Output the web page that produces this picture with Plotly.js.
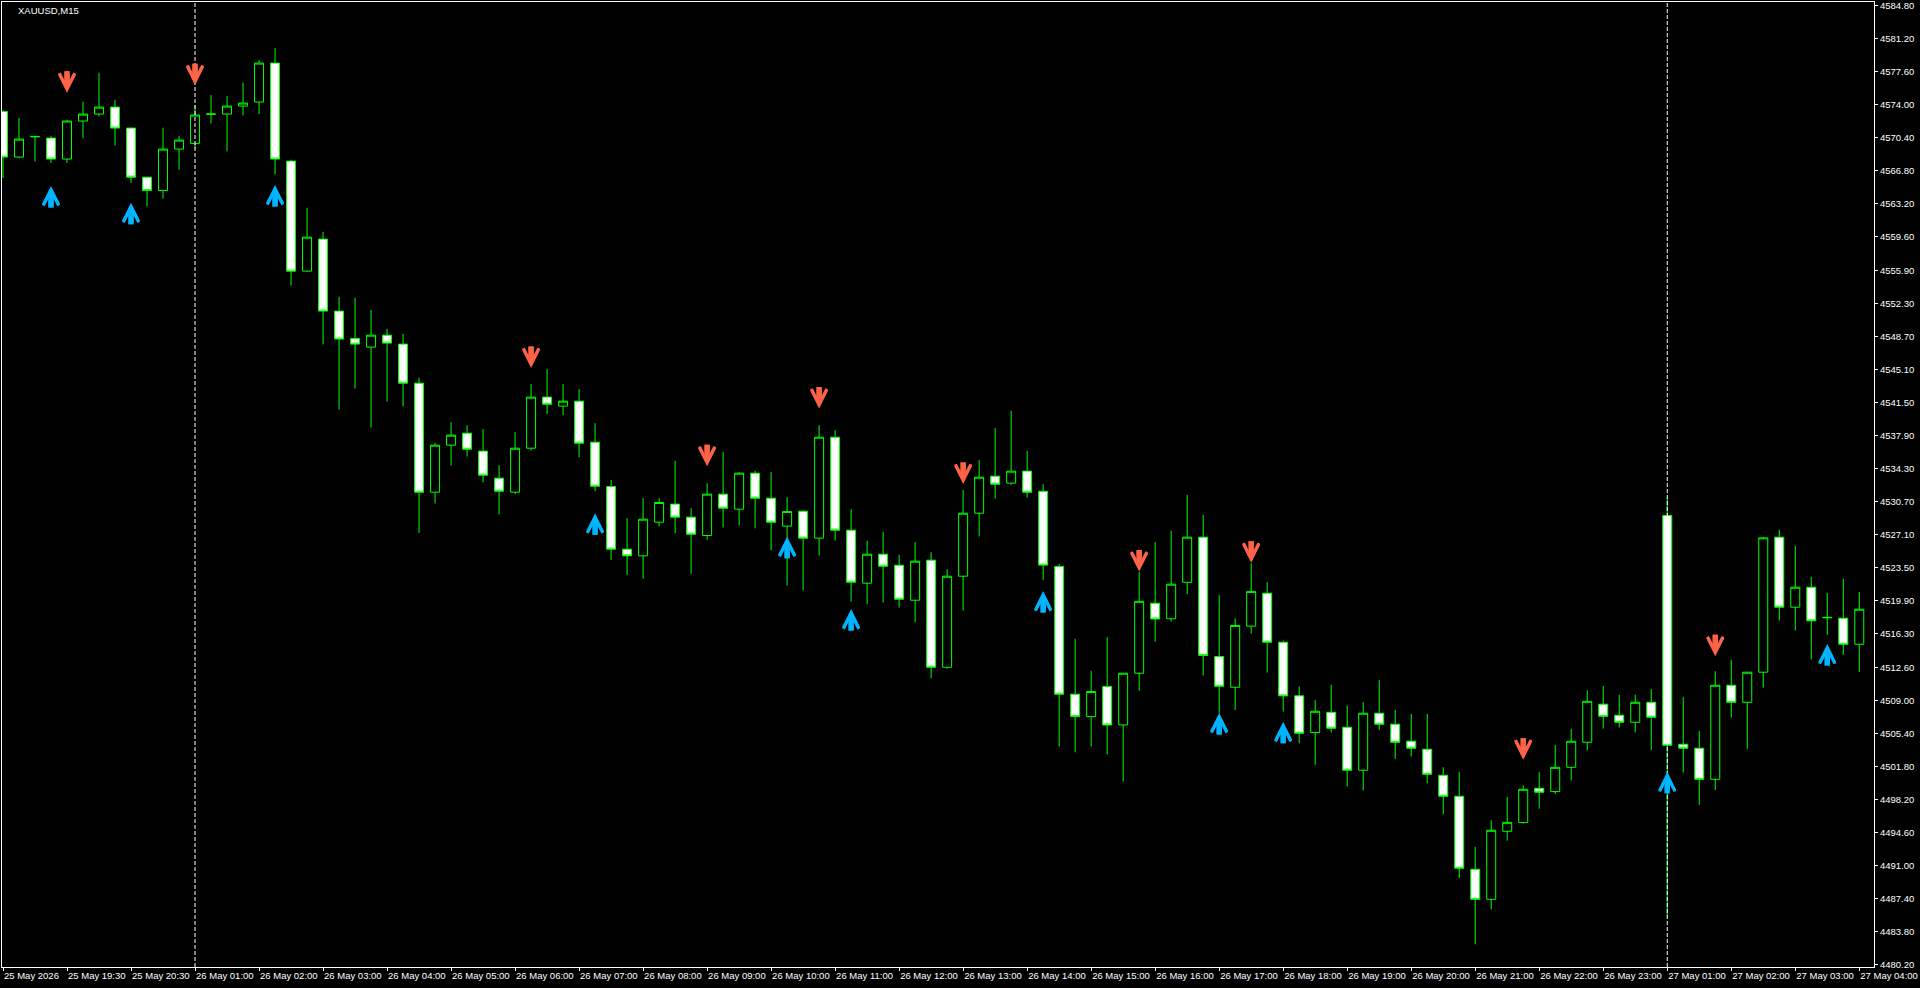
<!DOCTYPE html>
<html><head><meta charset="utf-8">
<script src="https://cdn.plot.ly/plotly-3.0.1.min.js"></script>
<style>html,body{margin:0;padding:0;background:#000;overflow:hidden}#chart{width:1920px;height:988px}</style>
</head><body><div id="chart"></div>
<script>
const chartTitle = 'XAUUSD,M15';

const opens = [4573.28,4568.30,4570.50,4570.37,4568.08,4572.23,4572.99,4573.75,4571.46,4566.11,
4564.66,4569.17,4569.79,4572.95,4572.99,4573.86,4574.30,4578.55,4567.86,4555.86,
4559.35,4551.50,4548.52,4547.57,4548.88,4547.90,4543.64,4531.75,4536.88,4538.19,
4536.23,4533.28,4531.75,4536.55,4542.12,4541.14,4541.68,4537.21,4532.37,4525.54,
4524.81,4528.48,4530.45,4529.03,4527.03,4531.54,4529.90,4533.83,4531.10,4528.05,
4529.68,4526.74,4537.75,4527.61,4521.83,4524.99,4523.79,4519.97,4524.34,4512.66,
4522.59,4529.46,4533.50,4532.74,4534.05,4531.85,4523.66,4509.72,4507.28,4510.57,
4506.37,4512.01,4519.65,4517.95,4521.92,4526.85,4513.83,4510.48,4517.14,4520.74,
4515.39,4509.54,4505.54,4507.75,4506.12,4501.43,4507.65,4506.45,4504.60,4503.72,
4500.88,4498.59,4490.63,4487.35,4494.77,4495.72,4499.46,4499.10,4501.75,4504.48,
4508.63,4507.43,4506.66,4508.84,4529.21,4504.26,4503.83,4500.44,4510.70,4508.84,
4512.12,4526.85,4519.21,4521.39,4518.05,4518.01,4515.17];

const highs = [4573.39,4572.59,4570.63,4570.63,4572.37,4574.34,4577.50,4574.55,4571.50,4566.15,
4571.50,4570.63,4573.97,4575.06,4574.95,4576.41,4578.88,4580.19,4568.01,4562.77,
4560.15,4553.06,4552.95,4551.64,4549.57,4549.03,4544.23,4537.14,4539.39,4539.06,
4538.63,4534.70,4538.30,4543.54,4545.17,4543.54,4542.99,4539.28,4533.08,4528.92,
4531.10,4531.10,4535.17,4530.01,4532.74,4536.12,4533.94,4534.08,4533.94,4531.21,
4529.79,4539.06,4538.52,4529.90,4526.45,4527.43,4524.92,4526.30,4525.21,4523.35,
4532.00,4535.28,4538.77,4540.63,4536.26,4532.63,4523.92,4515.75,4512.26,4515.94,
4512.05,4523.06,4526.30,4527.54,4531.46,4529.28,4520.53,4518.01,4524.01,4521.94,
4515.57,4510.55,4509.10,4510.74,4508.48,4508.85,4511.28,4508.01,4507.57,4507.57,
4501.75,4501.25,4493.06,4495.97,4498.52,4499.79,4501.25,4504.19,4505.94,4510.15,
4510.63,4509.65,4509.65,4510.30,4531.14,4509.43,4505.72,4512.23,4513.47,4512.15,
4526.88,4527.65,4525.90,4522.52,4520.77,4522.30,4520.88];

const lows = [4566.01,4568.15,4567.83,4567.65,4567.65,4570.34,4572.74,4569.57,4565.46,4562.92,
4563.75,4566.92,4569.24,4571.97,4568.92,4572.85,4572.97,4566.41,4554.30,4555.80,
4547.86,4540.77,4543.06,4538.81,4541.65,4541.10,4527.30,4530.52,4534.66,4535.64,
4532.81,4529.32,4531.54,4536.30,4540.26,4540.15,4535.57,4531.86,4524.37,4522.74,
4522.30,4528.01,4527.28,4522.85,4526.55,4527.90,4528.12,4527.81,4525.39,4521.57,
4521.03,4524.85,4526.48,4519.83,4519.54,4519.72,4519.17,4517.57,4511.46,4512.50,
4518.84,4526.92,4531.05,4532.55,4531.17,4522.19,4504.01,4503.39,4504.01,4503.15,
4500.19,4510.10,4515.46,4517.65,4520.63,4511.75,4507.65,4508.00,4516.34,4512.08,
4507.83,4504.37,4502.01,4505.54,4499.65,4499.21,4505.83,4502.66,4502.92,4500.01,
4496.63,4489.65,4482.45,4486.26,4493.75,4495.61,4497.24,4498.85,4500.30,4503.57,
4505.97,4506.08,4505.54,4503.64,4485.46,4501.17,4497.64,4499.28,4507.17,4503.75,
4510.44,4517.75,4516.66,4513.50,4516.19,4514.01,4512.15];

const closes = [4568.30,4570.26,4570.55,4568.08,4572.23,4572.99,4573.75,4571.46,4566.11,4564.66,
4569.17,4570.15,4572.88,4573.00,4573.86,4574.19,4578.55,4568.08,4555.86,4559.57,
4551.50,4548.45,4547.90,4548.88,4548.01,4543.64,4531.75,4536.88,4537.97,4536.44,
4533.61,4531.86,4536.55,4542.12,4541.35,4541.68,4537.10,4532.41,4525.54,4524.81,
4528.81,4530.63,4529.03,4527.17,4531.54,4530.01,4533.83,4531.10,4528.48,4529.65,
4526.74,4537.75,4527.61,4521.94,4524.99,4523.68,4520.08,4524.23,4512.66,4522.59,
4529.46,4533.39,4532.63,4534.05,4531.75,4523.80,4509.72,4507.28,4510.01,4506.36,
4512.01,4519.85,4517.92,4521.72,4526.85,4513.95,4510.59,4517.22,4520.93,4515.39,
4509.54,4505.46,4507.86,4506.01,4501.43,4507.65,4506.45,4504.48,4503.83,4500.99,
4498.59,4490.74,4487.35,4494.88,4495.75,4499.35,4499.03,4501.75,4504.59,4508.95,
4507.31,4506.66,4508.84,4507.21,4504.15,4503.83,4500.44,4510.70,4508.84,4512.12,
4526.77,4519.21,4521.39,4517.72,4518.10,4515.17,4518.99];

// time axis labels (bar index -> label)
const xTickIndex = [0,4,8,12,16,20,24,28,32,36,40,44,48,52,56,60,64,68,72,76,80,84,88,92,96,100,104,108,112,116];
const xTickText = ['25 May 2026','25 May 19:30','25 May 20:30','26 May 01:00','26 May 02:00','26 May 03:00',
'26 May 04:00','26 May 05:00','26 May 06:00','26 May 07:00','26 May 08:00','26 May 09:00','26 May 10:00',
'26 May 11:00','26 May 12:00','26 May 13:00','26 May 14:00','26 May 15:00','26 May 16:00','26 May 17:00',
'26 May 18:00','26 May 19:00','26 May 20:00','26 May 21:00','26 May 22:00','26 May 23:00',
'27 May 01:00','27 May 02:00','27 May 03:00','27 May 04:00'];

const yTickValues = [4584.80,4581.20,4577.60,4574.00,4570.40,4566.80,4563.20,4559.60,4555.90,4552.30,
4548.70,4545.10,4541.50,4537.90,4534.30,4530.70,4527.10,4523.50,4519.90,4516.30,4512.60,4509.00,
4505.40,4501.80,4498.20,4494.60,4491.00,4487.40,4483.80,4480.20];

const daySeparatorIndex = [12, 104];

// signal arrows: bar index and price at the arrow tip
const sellArrowIndex = [4,12,33,44,51,60,71,78,95,107];
const sellArrowTip = [4575.30,4576.14,4545.30,4534.58,4540.87,4532.65,4523.10,4524.05,4502.58,4513.85];
const buyArrowIndex = [3,8,17,37,49,53,65,76,80,104,114];
const buyArrowTip = [4565.15,4563.33,4565.26,4529.45,4526.90,4519.00,4520.97,4507.68,4506.71,4501.26,4515.19];

const axisFont = {family:'Liberation Sans, Arial, sans-serif', size:9.5, color:'#FFFFFF'};
const barIndex = opens.map((_, i) => i);

const traces = [
  {type:'candlestick', x:barIndex, open:opens, high:highs, low:lows, close:closes,
   increasing:{line:{color:'#00FF00', width:1}, fillcolor:'#000000'},
   decreasing:{line:{color:'#00FF00', width:1}, fillcolor:'#FFFFFF'},
   whiskerwidth:0, hoverinfo:'skip', showlegend:false}
];

// dir = -1: arrow pointing down (tail above), dir = 1: pointing up (tail below)
function arrowNotes(x, y, color, dir) {
  const base = {x:x, y:y, xref:'x', yref:'y', text:'', showarrow:true,
                arrowhead:5, arrowsize:0.58, arrowwidth:5.2, arrowcolor:color, ax:0, standoff:0};
  return [Object.assign({}, base, {ay:dir * 23}),
          Object.assign({}, base, {ay:dir * 22, yshift:-dir * 1})];
}
let annotations = [];
sellArrowIndex.forEach((k, i) => { annotations = annotations.concat(arrowNotes(k, sellArrowTip[i], '#FF6347', -1)); });
buyArrowIndex.forEach((k, i) => { annotations = annotations.concat(arrowNotes(k, buyArrowTip[i], '#00B4FF', 1)); });

const layout = {
  width:1920, height:988,
  paper_bgcolor:'#000000', plot_bgcolor:'#000000',
  margin:{l:2, r:46, t:2, b:21, pad:0},
  showlegend:false,
  boxgap:0.4375, boxgroupgap:0,
  title:{text:chartTitle, font:{family:'Liberation Sans, Arial, sans-serif', size:9.5, color:'#FFFFFF'},
         xref:'container', yref:'container', x:18/1920, xanchor:'left', y:1-11/988, yanchor:'middle'},
  xaxis:{range:[-0.0625, 116.92], showgrid:false, zeroline:false, showline:true, mirror:true,
         linecolor:'#FFFFFF', linewidth:1, ticks:'outside', ticklen:3, tickcolor:'#FFFFFF', tickwidth:1,
         tickmode:'array', tickvals:xTickIndex, ticktext:xTickText, tickangle:0,
         ticklabelposition:'outside right', tickfont:axisFont, rangeslider:{visible:false}, fixedrange:true},
  yaxis:{range:[4479.97, 4585.21], side:'right', showgrid:false, zeroline:false, showline:true, mirror:true,
         linecolor:'#FFFFFF', linewidth:1, ticks:'outside', ticklen:3, tickcolor:'#FFFFFF', tickwidth:1,
         tickmode:'array', tickvals:yTickValues, ticktext:yTickValues.map(v => v.toFixed(2)),
         tickfont:axisFont, fixedrange:true},
  annotations: annotations,
  shapes: daySeparatorIndex.map(i => ({type:'line', xref:'x', yref:'paper', x0:i, x1:i, y0:0, y1:1,
          layer:'above', line:{color:'#FFFFFF', width:1, dash:'4px,2px'}}))
};

Plotly.newPlot('chart', traces, layout, {staticPlot:true, displayModeBar:false});
</script>
</body></html>
